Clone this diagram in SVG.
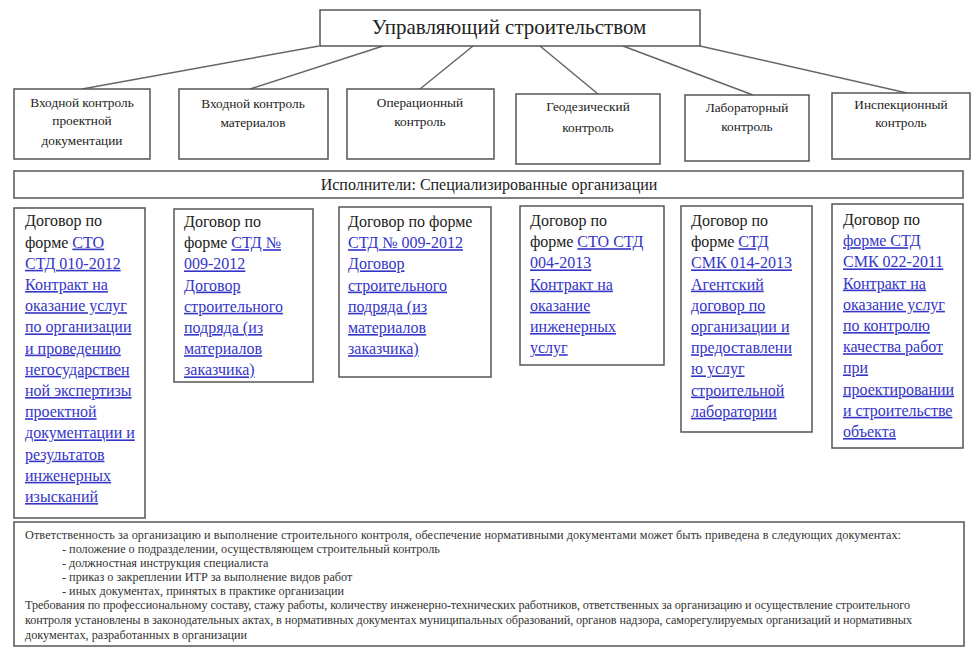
<svg xmlns="http://www.w3.org/2000/svg" width="979" height="656" viewBox="0 0 979 656">
<style>
.box{fill:#fff;stroke:#555;stroke-width:1.5}
.con{stroke:#666;stroke-width:1.5;fill:none}
.t{font-family:"Liberation Serif","Times New Roman",serif;fill:#222}
.h{font-size:13.3px;text-anchor:middle}
.c{font-size:16px}
.lk{fill:#3535c8;text-decoration:underline}
.n{font-size:12.2px;fill:#333}
</style>
<rect width="979" height="656" fill="#fff"/>
<g id="connectors">
<line class="con" x1="319" y1="46" x2="82" y2="89"/>
<line class="con" x1="383" y1="46" x2="250" y2="89"/>
<line class="con" x1="473" y1="46" x2="420" y2="89"/>
<line class="con" x1="540" y1="46" x2="598" y2="94"/>
<line class="con" x1="623" y1="46" x2="753" y2="95"/>
<line class="con" x1="700" y1="46" x2="907" y2="93"/>
</g>
<g id="manager">
<rect class="box" x="320" y="10" width="380" height="36"/>
<text class="t" x="509" y="34" font-size="21" text-anchor="middle">Управляющий строительством</text>
</g>
<g id="ctl1">
<rect class="box" x="14" y="89" width="136" height="70"/>
<text class="t h" x="82" y="107">Входной контроль</text>
<text class="t h" x="82" y="125">проектной</text>
<text class="t h" x="82" y="145">документации</text>
</g>
<g id="ctl2">
<rect class="box" x="179" y="89" width="149" height="70"/>
<text class="t h" x="253" y="108">Входной контроль</text>
<text class="t h" x="253" y="127">материалов</text>
</g>
<g id="ctl3">
<rect class="box" x="347" y="89" width="147" height="70"/>
<text class="t h" x="420" y="107">Операционный</text>
<text class="t h" x="420" y="126">контроль</text>
</g>
<g id="ctl4">
<rect class="box" x="516" y="94" width="144" height="70"/>
<text class="t h" x="588" y="111">Геодезический</text>
<text class="t h" x="588" y="132">контроль</text>
</g>
<g id="ctl5">
<rect class="box" x="685" y="95" width="124" height="66"/>
<text class="t h" x="747" y="112">Лабораторный</text>
<text class="t h" x="747" y="131">контроль</text>
</g>
<g id="ctl6">
<rect class="box" x="832" y="93" width="138" height="66"/>
<text class="t h" x="901" y="109">Инспекционный</text>
<text class="t h" x="901" y="127">контроль</text>
</g>
<g id="executors">
<rect class="box" x="14" y="171" width="949" height="27"/>
<text class="t" x="489" y="190" font-size="16" text-anchor="middle">Исполнители: Специализированные организации</text>
</g>
<g id="contract1">
<rect class="box" x="14" y="208" width="131" height="310"/>
<text class="t c">
<tspan x="25" y="226.4">Договор по</tspan>
<tspan x="25" y="247.6">форме </tspan><tspan class="lk">СТО</tspan>
<tspan class="lk" x="25" y="268.8">СТД 010-2012</tspan>
<tspan class="lk" x="25" y="290">Контракт на</tspan>
<tspan class="lk" x="25" y="311.2">оказание услуг</tspan>
<tspan class="lk" x="25" y="332.4">по организации</tspan>
<tspan class="lk" x="25" y="353.6">и проведению</tspan>
<tspan class="lk" x="25" y="374.8">негосударствен</tspan>
<tspan class="lk" x="25" y="396">ной экспертизы</tspan>
<tspan class="lk" x="25" y="417.2">проектной</tspan>
<tspan class="lk" x="25" y="438.4">документации и</tspan>
<tspan class="lk" x="25" y="459.6">результатов</tspan>
<tspan class="lk" x="25" y="480.8">инженерных</tspan>
<tspan class="lk" x="25" y="502">изысканий</tspan>
</text>
</g>
<g id="contract2">
<rect class="box" x="174" y="209" width="139" height="173"/>
<text class="t c">
<tspan x="184" y="227">Договор по</tspan>
<tspan x="184" y="248.2">форме </tspan><tspan class="lk">СТД №</tspan>
<tspan class="lk" x="184" y="269.4">009-2012</tspan>
<tspan class="lk" x="184" y="290.6">Договор</tspan>
<tspan class="lk" x="184" y="311.8">строительного</tspan>
<tspan class="lk" x="184" y="333">подряда (из</tspan>
<tspan class="lk" x="184" y="354.2">материалов</tspan>
<tspan class="lk" x="184" y="375.4">заказчика)</tspan>
</text>
</g>
<g id="contract3">
<rect class="box" x="339" y="207" width="152" height="170"/>
<text class="t c">
<tspan x="348" y="227">Договор по форме</tspan>
<tspan class="lk" x="348" y="248.2">СТД № 009-2012</tspan>
<tspan class="lk" x="348" y="269.4">Договор</tspan>
<tspan class="lk" x="348" y="290.6">строительного</tspan>
<tspan class="lk" x="348" y="311.8">подряда (из</tspan>
<tspan class="lk" x="348" y="333">материалов</tspan>
<tspan class="lk" x="348" y="354.2">заказчика)</tspan>
</text>
</g>
<g id="contract4">
<rect class="box" x="520" y="206" width="144" height="159"/>
<text class="t c">
<tspan x="530" y="226">Договор по</tspan>
<tspan x="530" y="247.2">форме </tspan><tspan class="lk">СТО СТД</tspan>
<tspan class="lk" x="530" y="268.4">004-2013</tspan>
<tspan class="lk" x="530" y="289.6">Контракт на</tspan>
<tspan class="lk" x="530" y="310.8">оказание</tspan>
<tspan class="lk" x="530" y="332">инженерных</tspan>
<tspan class="lk" x="530" y="353.2">услуг</tspan>
</text>
</g>
<g id="contract5">
<rect class="box" x="681" y="206" width="131" height="226"/>
<text class="t c">
<tspan x="691" y="226">Договор по</tspan>
<tspan x="691" y="247.2">форме </tspan><tspan class="lk">СТД</tspan>
<tspan class="lk" x="691" y="268.4">СМК 014-2013</tspan>
<tspan class="lk" x="691" y="289.6">Агентский</tspan>
<tspan class="lk" x="691" y="310.8">договор по</tspan>
<tspan class="lk" x="691" y="332">организации и</tspan>
<tspan class="lk" x="691" y="353.2">предоставлени</tspan>
<tspan class="lk" x="691" y="374.4">ю услуг</tspan>
<tspan class="lk" x="691" y="395.6">строительной</tspan>
<tspan class="lk" x="691" y="416.8">лаборатории</tspan>
</text>
</g>
<g id="contract6">
<rect class="box" x="832" y="204" width="131" height="244"/>
<text class="t c">
<tspan x="843" y="225">Договор по</tspan>
<tspan class="lk" x="843" y="246.2">форме СТД</tspan>
<tspan class="lk" x="843" y="267.4">СМК 022-2011</tspan>
<tspan class="lk" x="843" y="288.6">Контракт на</tspan>
<tspan class="lk" x="843" y="309.8">оказание услуг</tspan>
<tspan class="lk" x="843" y="331">по контролю</tspan>
<tspan class="lk" x="843" y="352.2">качества работ</tspan>
<tspan class="lk" x="843" y="373.4">при</tspan>
<tspan class="lk" x="843" y="394.6">проектировании</tspan>
<tspan class="lk" x="843" y="415.8">и строительстве</tspan>
<tspan class="lk" x="843" y="437">объекта</tspan>
</text>
</g>
<g id="notes">
<rect class="box" x="14" y="522" width="950" height="124"/>
<text class="t n" x="25" y="539" textLength="876" lengthAdjust="spacing">Ответственность за организацию и выполнение строительного контроля, обеспечение нормативными документами может быть приведена в следующих документах:</text>
<text class="t n" x="62" y="553">- положение о подразделении, осуществляющем строительный контроль</text>
<text class="t n" x="62" y="567">- должностная инструкция специалиста</text>
<text class="t n" x="62" y="581">- приказ о закреплении ИТР за выполнение видов работ</text>
<text class="t n" x="62" y="595">- иных документах, принятых в практике организации</text>
<text class="t n" x="25" y="609" textLength="885" lengthAdjust="spacing">Требования по профессиональному составу, стажу работы, количеству инженерно-технических работников, ответственных за организацию и осуществление строительного</text>
<text class="t n" x="25" y="624" textLength="887" lengthAdjust="spacing">контроля установлены в законодательных актах, в нормативных документах муниципальных образований, органов надзора, саморегулируемых организаций и нормативных</text>
<text class="t n" x="25" y="639">документах, разработанных в организации</text>
</g>
</svg>
